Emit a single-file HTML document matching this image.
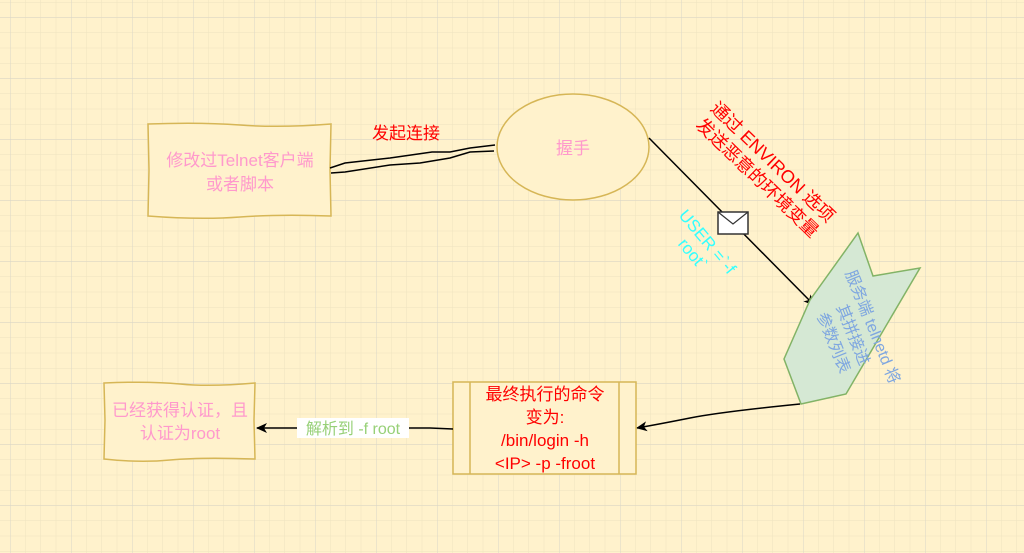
<!DOCTYPE html>
<html><head><meta charset="utf-8"><style>
html,body{margin:0;padding:0}
body{width:1024px;height:553px;overflow:hidden;background:#fff2cc;font-family:"Liberation Sans","Noto Sans CJK SC",sans-serif}
svg{position:absolute;left:0;top:0}
</style></head><body>
<svg width="1024" height="553" viewBox="0 0 1024 553" xmlns="http://www.w3.org/2000/svg">
<defs>
<pattern id="mi" x="10" y="2" width="15.25" height="15.25" patternUnits="userSpaceOnUse">
<path d="M0 0H15.25M0 0V15.25" stroke="#eee3c0" stroke-width="1" fill="none"/></pattern>
<pattern id="ma" x="10" y="17" width="61" height="61" patternUnits="userSpaceOnUse">
<path d="M0 0H61M0 0V61" stroke="#d9d6c8" stroke-width="1" fill="none"/></pattern>
<marker id="ar" markerWidth="12" markerHeight="12" refX="10" refY="6" orient="auto" markerUnits="userSpaceOnUse">
<path d="M0 1 L11 6 L0 11 L3 6 Z" fill="#000"/></marker>
</defs>
<rect width="1024" height="553" fill="url(#mi)"/>
<rect width="1024" height="553" fill="url(#ma)"/>

<path d="M148 124 Q200 122 240 125 T331 124 L330 170 L331 216 Q280 214 240 217 T148 216 L149 170 Z" fill="#fff2cc" stroke="#d6b656" stroke-width="1.5"/>
<text x="240" y="166" font-size="17" fill="#ff99cc" text-anchor="middle">修改过Telnet客户端</text>
<text x="240" y="190" font-size="17" fill="#ff99cc" text-anchor="middle">或者脚本</text>

<path d="M330 168 L345 163 L390 158 L432 152 L450 152 L470 148 L495 145" fill="none" stroke="#000" stroke-width="1.5"/>
<path d="M331 173 L345 172 L390 165 L420 163 L450 158 L470 152 L494 151" fill="none" stroke="#000" stroke-width="1.5"/>
<text x="406" y="139" font-size="17" fill="#ff0000" text-anchor="middle">发起连接</text>

<ellipse cx="573" cy="147" rx="76" ry="53" fill="#fff2cc" stroke="#d6b656" stroke-width="1.5"/>
<text x="573" y="154" font-size="17" fill="#ff99cc" text-anchor="middle">握手</text>

<line x1="649" y1="138" x2="814" y2="305" stroke="#000" stroke-width="1.5" marker-end="url(#ar)"/>
<rect x="718" y="212" width="30" height="22" fill="#fff" stroke="#333" stroke-width="1.5"/>
<path d="M718 212 L733 224 L748 212" fill="none" stroke="#333" stroke-width="1.2"/>

<text transform="translate(765,170) rotate(44)" font-size="18" fill="#ff0000" text-anchor="middle"><tspan x="0" y="-5">通过 ENVIRON 选项</tspan><tspan x="0" y="17">发送恶意的环境变量</tspan></text>
<text transform="translate(700,248) rotate(50)" font-size="17" fill="#33ffff" text-anchor="middle"><tspan x="0" y="-4">USER =`-f</tspan><tspan x="0" y="15">root`</tspan></text>

<polygon points="858,233 873,276 920,268 846,394 801,404 784,359 810,300" fill="#d5e8d4" stroke="#82b366" stroke-width="1.5"/>
<text transform="translate(850,336) rotate(68)" font-size="16" fill="#7ea6e0" text-anchor="middle"><tspan x="0" y="-19">服务端 telnetd 将</tspan><tspan x="0" y="2">其拼接进</tspan><tspan x="0" y="23">参数列表</tspan></text>

<path d="M800 404 Q720 412 690 418 T637 428" fill="none" stroke="#000" stroke-width="1.5" marker-end="url(#ar)"/>

<rect x="453" y="382" width="183" height="92" fill="#fff2cc" stroke="#d6b656" stroke-width="1.5"/>
<line x1="470" y1="382" x2="470" y2="474" stroke="#d6b656" stroke-width="1.5"/>
<line x1="619" y1="382" x2="619" y2="474" stroke="#d6b656" stroke-width="1.5"/>
<text font-size="17" fill="#ff0000" text-anchor="middle"><tspan x="545" y="400">最终执行的命令</tspan><tspan x="545" y="423">变为:</tspan><tspan x="545" y="446">/bin/login -h</tspan><tspan x="545" y="469">&lt;IP&gt; -p -froot</tspan></text>

<path d="M453 429 L430 428 L257 428" fill="none" stroke="#000" stroke-width="1.5" marker-end="url(#ar)"/>
<rect x="297" y="418" width="112" height="20" fill="#fff"/>
<text x="353" y="434" font-size="16" fill="#97d077" text-anchor="middle">解析到 -f root</text>

<path d="M104 383 Q150 381 180 384 T255 383 L254 420 L255 459 Q200 457 170 460 T104 459 L105 420 Z" fill="#fff2cc" stroke="#d6b656" stroke-width="1.5"/>
<text x="180" y="416" font-size="17" fill="#ff99cc" text-anchor="middle">已经获得认证，且</text>
<text x="180" y="439" font-size="17" fill="#ff99cc" text-anchor="middle">认证为root</text>
</svg>
</body></html>
